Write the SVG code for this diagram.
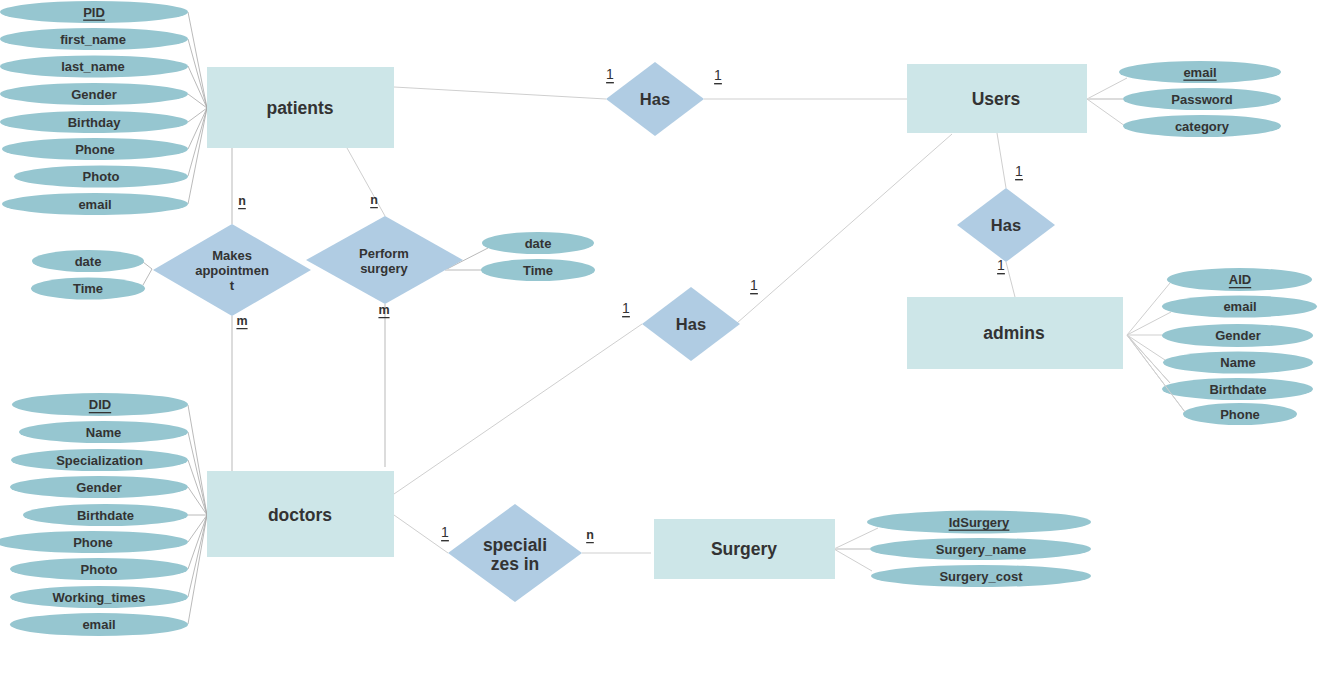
<svg xmlns="http://www.w3.org/2000/svg" width="1323" height="687" viewBox="0 0 1323 687">
<style>
.ent{fill:#cde6e8}
.rel{fill:#b0cce3}
.att{fill:#96c6d0}
text{font-family:"Liberation Sans",Arial,sans-serif;fill:#333;text-anchor:middle;dominant-baseline:central}
.et{font-size:17.5px;font-weight:bold}
.rt{font-size:16.5px;font-weight:bold}
.rs{font-size:13px;font-weight:bold}
.at{font-size:13px;font-weight:bold}
.pk{text-decoration:underline}
.c1{font-size:14px;text-decoration:underline}
.cn{font-size:12.5px;font-weight:bold;text-decoration:underline}
.ln{stroke:#cfcfcf;stroke-width:1;fill:none}
.lt{stroke:#dcdcdc;stroke-width:2;fill:none}
.la{stroke:#a8a8a8;stroke-width:0.8;fill:none}
</style>
<rect width="1323" height="687" fill="#fff"/>
<g id="connectors">
<line class="ln" x1="394" y1="87" x2="606" y2="99"/>
<line class="ln" x1="704" y1="99" x2="907" y2="99"/>
<line class="ln" x1="997" y1="133" x2="1006" y2="188"/>
<line class="ln" x1="1006" y1="262" x2="1015" y2="297"/>
<line class="ln" x1="394" y1="494" x2="642" y2="324"/>
<line class="ln" x1="737" y1="323" x2="952" y2="134"/>
<line class="lt" x1="232" y1="148" x2="232" y2="224"/>
<line class="lt" x1="232" y1="316" x2="232" y2="477"/>
<line class="ln" x1="347" y1="148" x2="385" y2="216"/>
<line class="lt" x1="385" y1="304" x2="385" y2="467"/>
<line class="ln" x1="394" y1="515" x2="448" y2="553"/>
<line class="ln" x1="582" y1="553" x2="651" y2="553"/>
<line class="la" x1="143" y1="262" x2="152" y2="269"/>
<line class="la" x1="143" y1="285" x2="152" y2="269"/>
<line class="la" x1="445" y1="270" x2="488" y2="248"/>
<line class="lt" x1="445" y1="270" x2="482" y2="270"/>
<g class="la">
<line x1="188" y1="12" x2="207" y2="108"/>
<line x1="188" y1="39" x2="207" y2="108"/>
<line x1="188" y1="66" x2="207" y2="108"/>
<line x1="188" y1="94" x2="207" y2="108"/>
<line x1="188" y1="122" x2="207" y2="108"/>
<line x1="188" y1="149" x2="207" y2="108"/>
<line x1="188" y1="176" x2="207" y2="108"/>
<line x1="188" y1="204" x2="207" y2="108"/>
<line x1="188" y1="405" x2="207" y2="515"/>
<line x1="188" y1="432" x2="207" y2="515"/>
<line x1="188" y1="460" x2="207" y2="515"/>
<line x1="188" y1="487" x2="207" y2="515"/>
<line x1="188" y1="515" x2="207" y2="515"/>
<line x1="188" y1="542" x2="207" y2="515"/>
<line x1="188" y1="569" x2="207" y2="515"/>
<line x1="188" y1="597" x2="207" y2="515"/>
<line x1="188" y1="624" x2="207" y2="515"/>
</g>
<line class="ln" x1="1087" y1="99" x2="1127" y2="78"/>
<line class="lt" x1="1087" y1="99" x2="1123" y2="99"/>
<line class="ln" x1="1087" y1="99" x2="1125" y2="126"/>
<g class="ln">
<line x1="1127" y1="335" x2="1170" y2="283"/>
<line x1="1127" y1="335" x2="1171" y2="312"/>
<line x1="1127" y1="335" x2="1162" y2="335"/>
<line x1="1127" y1="335" x2="1165" y2="360"/>
<line x1="1127" y1="335" x2="1170" y2="383"/>
<line x1="1127" y1="335" x2="1185" y2="412"/>
</g>
<line class="ln" x1="834" y1="549" x2="878" y2="528"/>
<line class="lt" x1="834" y1="549" x2="870" y2="549"/>
<line class="ln" x1="834" y1="549" x2="872" y2="571"/>
</g>
<g id="labels">
<text class="c1" x="610" y="74">1</text>
<text class="c1" x="718" y="75">1</text>
<text class="c1" x="1019" y="171">1</text>
<text class="c1" x="1001" y="265">1</text>
<text class="c1" x="626" y="308">1</text>
<text class="c1" x="754" y="285">1</text>
<text class="c1" x="445" y="532">1</text>
<text class="cn" x="590" y="535">n</text>
<text class="cn" x="242" y="201">n</text>
<text class="cn" x="242" y="321">m</text>
<text class="cn" x="374" y="200">n</text>
<text class="cn" x="384" y="310">m</text>
</g>
<g id="patients"><rect class="ent" x="207" y="67" width="187" height="81"/><text class="et" x="300" y="108">patients</text></g>
<g id="users"><rect class="ent" x="907" y="64" width="180" height="69"/><text class="et" x="996" y="99">Users</text></g>
<g id="admins"><rect class="ent" x="907" y="297" width="216" height="72"/><text class="et" x="1014" y="333">admins</text></g>
<g id="doctors"><rect class="ent" x="207" y="471" width="187" height="86"/><text class="et" x="300" y="515">doctors</text></g>
<g id="surgery"><rect class="ent" x="654" y="519" width="181" height="60"/><text class="et" x="744" y="549">Surgery</text></g>
<g id="has-patients-users"><polygon class="rel" points="606,99 655,62 704,99 655,136"/><text class="rt" x="655" y="99">Has</text></g>
<g id="has-users-admins"><polygon class="rel" points="957,225 1006,188 1055,225 1006,262"/><text class="rt" x="1006" y="225">Has</text></g>
<g id="has-doctors-users"><polygon class="rel" points="642,324 691,287 740,324 691,361"/><text class="rt" x="691" y="324">Has</text></g>
<g id="makes-appointment"><polygon class="rel" points="153,270 232,224 311,270 232,316"/><text class="rs" x="232" y="255">Makes</text><text class="rs" x="232" y="270">appointmen</text><text class="rs" x="232" y="285">t</text></g>
<g id="perform-surgery"><polygon class="rel" points="306,260 385,216 463,260 385,304"/><text class="rs" x="384" y="253">Perform</text><text class="rs" x="384" y="268">surgery</text></g>
<g id="specializes-in"><polygon class="rel" points="448,553 515,504 582,553 515,602"/><text class="et" x="515" y="545">speciali</text><text class="et" x="515" y="564">zes in</text></g>
<g id="patients-attrs">
<g id="p-pid"><ellipse class="att" cx="94" cy="12" rx="94" ry="11"/><text class="at pk" x="94" y="12">PID</text></g>
<g id="p-first"><ellipse class="att" cx="94" cy="39" rx="94" ry="11"/><text class="at" x="93" y="39">first_name</text></g>
<g id="p-last"><ellipse class="att" cx="94" cy="66.5" rx="94" ry="11"/><text class="at" x="93" y="66.5">last_name</text></g>
<g id="p-gender"><ellipse class="att" cx="94" cy="94" rx="94" ry="11"/><text class="at" x="94" y="94">Gender</text></g>
<g id="p-birthday"><ellipse class="att" cx="94" cy="122" rx="94" ry="11"/><text class="at" x="94" y="122">Birthday</text></g>
<g id="p-phone"><ellipse class="att" cx="95" cy="149" rx="93" ry="11"/><text class="at" x="95" y="149">Phone</text></g>
<g id="p-photo"><ellipse class="att" cx="101" cy="176.5" rx="87" ry="11"/><text class="at" x="101" y="176.5">Photo</text></g>
<g id="p-email"><ellipse class="att" cx="95" cy="204" rx="93" ry="11"/><text class="at" x="95" y="204">email</text></g>
</g>
<g id="appt-attrs">
<g id="a-date"><ellipse class="att" cx="88" cy="261" rx="56" ry="11"/><text class="at" x="88" y="261">date</text></g>
<g id="a-time"><ellipse class="att" cx="88" cy="288.5" rx="57" ry="11"/><text class="at" x="88" y="288.5">Time</text></g>
</g>
<g id="surgery-rel-attrs">
<g id="s-date"><ellipse class="att" cx="538" cy="243" rx="56" ry="11"/><text class="at" x="538" y="243">date</text></g>
<g id="s-time"><ellipse class="att" cx="538" cy="270" rx="57" ry="11"/><text class="at" x="538" y="270">Time</text></g>
</g>
<g id="doctors-attrs">
<g id="d-did"><ellipse class="att" cx="100" cy="404.5" rx="88" ry="11.5"/><text class="at pk" x="100" y="404.5">DID</text></g>
<g id="d-name"><ellipse class="att" cx="103.5" cy="432" rx="84.5" ry="11"/><text class="at" x="103.5" y="432">Name</text></g>
<g id="d-spec"><ellipse class="att" cx="99.5" cy="460" rx="88.5" ry="11"/><text class="at" x="99.5" y="460">Specialization</text></g>
<g id="d-gender"><ellipse class="att" cx="99" cy="487" rx="89" ry="11"/><text class="at" x="99" y="487">Gender</text></g>
<g id="d-birth"><ellipse class="att" cx="105.5" cy="515" rx="82.5" ry="11"/><text class="at" x="105.5" y="515">Birthdate</text></g>
<g id="d-phone"><ellipse class="att" cx="92" cy="542" rx="96" ry="11"/><text class="at" x="93" y="542">Phone</text></g>
<g id="d-photo"><ellipse class="att" cx="99" cy="569" rx="89" ry="11"/><text class="at" x="99" y="569">Photo</text></g>
<g id="d-work"><ellipse class="att" cx="99" cy="597" rx="89" ry="11"/><text class="at" x="99" y="597">Working_times</text></g>
<g id="d-email"><ellipse class="att" cx="99" cy="624.5" rx="89" ry="11.5"/><text class="at" x="99" y="624.5">email</text></g>
</g>
<g id="users-attrs">
<g id="u-email"><ellipse class="att" cx="1200" cy="72" rx="81" ry="11"/><text class="at pk" x="1200" y="72">email</text></g>
<g id="u-pass"><ellipse class="att" cx="1202" cy="99" rx="79" ry="11"/><text class="at" x="1202" y="99">Password</text></g>
<g id="u-cat"><ellipse class="att" cx="1202" cy="126" rx="79" ry="11"/><text class="at" x="1202" y="126">category</text></g>
</g>
<g id="admins-attrs">
<g id="ad-aid"><ellipse class="att" cx="1239.5" cy="279.5" rx="72.5" ry="11.5"/><text class="at pk" x="1240" y="279.5">AID</text></g>
<g id="ad-email"><ellipse class="att" cx="1239.5" cy="306.5" rx="77.5" ry="11"/><text class="at" x="1240" y="306.5">email</text></g>
<g id="ad-gender"><ellipse class="att" cx="1237.5" cy="335.5" rx="75.5" ry="11.5"/><text class="at" x="1238" y="335.5">Gender</text></g>
<g id="ad-name"><ellipse class="att" cx="1238" cy="362.5" rx="75" ry="11"/><text class="at" x="1238" y="362.5">Name</text></g>
<g id="ad-birth"><ellipse class="att" cx="1237.5" cy="389" rx="75.5" ry="11"/><text class="at" x="1238" y="389">Birthdate</text></g>
<g id="ad-phone"><ellipse class="att" cx="1240" cy="414" rx="57" ry="11"/><text class="at" x="1240" y="414">Phone</text></g>
</g>
<line class="ln" x1="1127" y1="335" x2="1185" y2="412"/>
<line class="ln" x1="1127" y1="335" x2="1170" y2="383"/>
<g id="surgery-attrs">
<g id="su-id"><ellipse class="att" cx="979" cy="522" rx="112" ry="11.5"/><text class="at pk" x="979" y="522">IdSurgery</text></g>
<g id="su-name"><ellipse class="att" cx="980.5" cy="549" rx="110.5" ry="11"/><text class="at" x="981" y="549">Surgery_name</text></g>
<g id="su-cost"><ellipse class="att" cx="981" cy="576" rx="110" ry="11"/><text class="at" x="981" y="576">Surgery_cost</text></g>
</g>
</svg>
